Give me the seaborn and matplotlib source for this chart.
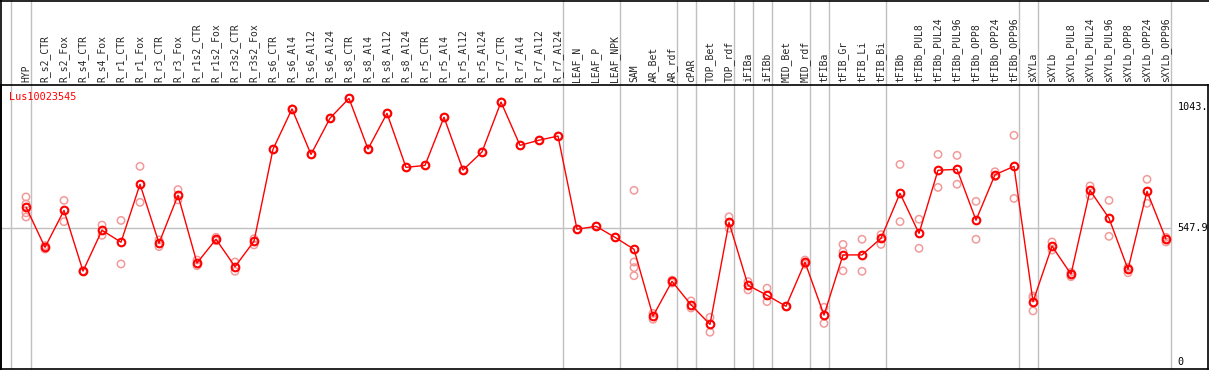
import numpy as np
import pandas as pd
import matplotlib
matplotlib.use("Agg")
import matplotlib.pyplot as plt
from matplotlib.lines import Line2D
import seaborn as sns

# Sample columns, in plotting order
samples = [
    "HYP", "R_s2_CTR", "R_s2_Fox", "R_s4_CTR", "R_s4_Fox", "R_r1_CTR", "R_r1_Fox",
    "R_r3_CTR", "R_r3_Fox", "R_r1s2_CTR", "R_r1s2_Fox", "R_r3s2_CTR", "R_r3s2_Fox",
    "R_s6_CTR", "R_s6_Al4", "R_s6_Al12", "R_s6_Al24", "R_s8_CTR", "R_s8_Al4",
    "R_s8_Al12", "R_s8_Al24", "R_r5_CTR", "R_r5_Al4", "R_r5_Al12", "R_r5_Al24",
    "R_r7_CTR", "R_r7_Al4", "R_r7_Al12", "R_r7_Al24", "LEAF_N", "LEAF_P", "LEAF_NPK",
    "SAM", "AR_Bet", "AR_rdf", "cPAR", "TOP_Bet", "TOP_rdf", "iFIBa", "iFIBb",
    "MID_Bet", "MID_rdf", "tFIBa", "tFIB_Gr", "tFIB_Li", "tFIB_Bi", "tFIBb",
    "tFIBb_PUL8", "tFIBb_PUL24", "tFIBb_PUL96", "tFIBb_OPP8", "tFIBb_OPP24",
    "tFIBb_OPP96", "sXYLa", "sXYLb", "sXYLb_PUL8", "sXYLb_PUL24", "sXYLb_PUL96",
    "sXYLb_OPP8", "sXYLb_OPP24", "sXYLb_OPP96",
]

# Mean expression per sample
means = [
    635, 470, 621, 373, 540, 491, 728, 487, 683, 406, 503, 391, 495,
    871, 1036, 850, 998, 1079, 872, 1018, 797, 805, 1002, 786, 860,
    1064, 887, 908, 925, 544, 556, 511,
    462, 189, 331, 235, 155, 572, 315, 274, 229, 409, 193, 439, 439, 507,
    691, 527, 785, 789, 581, 767, 801,
    248, 475, 360, 703, 589, 380, 699, 503,
]

# Individual replicate values per sample
replicates = [
    [676, 647, 611, 594], [477, 463], [662, 575], [373, 373], [561, 519],
    [580, 402], [801, 654], [500, 473], [706, 664], [418, 395], [511, 497],
    [410, 372], [505, 480],
    [871], [1036], [850], [998], [1079], [872], [1018], [797], [805], [1002],
    [786], [860], [1064], [887], [908], [925], [544], [556], [511],
    [703, 410, 387, 354], [200, 176], [336, 324], [251, 222], [184, 123],
    [595, 548], [330, 296], [303, 248], [229, 229], [418, 401], [225, 159],
    [482, 452, 374], [503, 372], [522, 482],
    [809, 575], [585, 466], [850, 715], [846, 728], [658, 503], [779, 759],
    [928, 670],
    [271, 264, 210], [492, 459], [368, 350], [721, 681], [662, 515],
    [388, 366], [748, 650], [511, 492],
]

# Number of samples in each tissue group (separators between groups)
group_sizes = [1, 28, 3, 3, 1, 2, 1, 1, 2, 1, 3, 7, 1, 7]

gene = "Lus10023545"
axis_values = [1043.0, 547.9, 0.0]
axis_labels = ["1043.", "547.9", "0"]

sns.set_style("white")
plt.rcParams["font.family"] = ["DejaVu Sans Mono"]

df = pd.DataFrame({"pos": np.arange(len(samples)), "sample": samples, "mean": means})
rep = pd.DataFrame(
    [(i, v) for i, vals in enumerate(replicates) for v in vals],
    columns=["pos", "value"],
)

W, H = 1209, 370
fig = plt.figure(figsize=(W / 100, H / 100), dpi=100)
ax = fig.add_axes([1 / W, 1 / H, 1207 / W, 284 / H])

xmin, xmax = -1.316, 62.21
ax.set_xlim(xmin, xmax)
ax.set_ylim(-27.4, 1133.7)

grey = "#c0c0c0"
# group separators run up through the label band
seps = [-0.8] + list(np.cumsum(group_sizes) - 1 + 0.25)
for p in seps:
    ax.axvline(p, ymin=0, ymax=369 / 284, clip_on=False, color=grey, lw=1, zorder=0)
ax.hlines(axis_values[1], xmin, seps[-1], color=grey, lw=1, zorder=0)

sns.scatterplot(data=rep, x="pos", y="value", ax=ax, marker="o", s=28,
                facecolor="none", edgecolor="#f29a9a", linewidth=1.1, zorder=2)
sns.lineplot(data=df, x="pos", y="mean", ax=ax, color="red", lw=1,
             marker="o", markersize=5.5, markerfacecolor="none",
             markeredgecolor="red", markeredgewidth=1.5, zorder=3)

ax.set_xticks(df["pos"])
ax.set_xticklabels(samples, rotation=90, fontsize=7)
ax.xaxis.tick_top()
ax.tick_params(axis="x", length=0, pad=2)
ax.set_yticks([])
ax.set_xlabel("")
ax.set_ylabel("")
for s in ax.spines.values():
    s.set_color("black")
    s.set_linewidth(1.2)

for v, lab in zip(axis_values, axis_labels):
    ax.text(60.62, v, lab, fontsize=7.3, va="center", ha="left", color="black")

ax.text(0.0069, 0.957, gene, transform=ax.transAxes, color="red",
        fontsize=7.3, va="center", ha="left")

# outer frame over the label band
fig.add_artist(Line2D([0, 1], [1 - 0.6 / H] * 2, color="black", lw=1.2))
fig.add_artist(Line2D([0.6 / W] * 2, [0, 1], color="black", lw=1.2))

fig.savefig("out.png", dpi=100)
